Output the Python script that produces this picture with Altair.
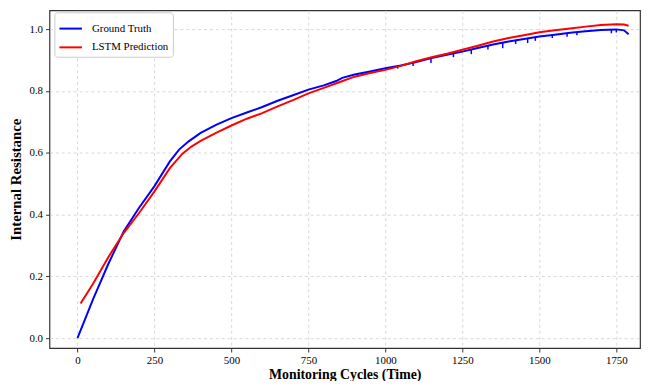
import altair as alt
import pandas as pd

# Ground truth (blue)
gt_cycles = [0, 50, 100, 150, 200, 250, 300, 330, 360, 400, 450, 500, 550, 600, 650, 700, 750,
             800, 840, 860, 900, 950, 1000, 1050, 1100, 1150, 1200, 1250, 1300, 1350, 1400,
             1450, 1500, 1550, 1600, 1650, 1700, 1750, 1775, 1790]
gt_values = [0.0, 0.125, 0.24, 0.345, 0.422, 0.492, 0.572, 0.61, 0.636, 0.664, 0.69, 0.712,
             0.73, 0.748, 0.768, 0.786, 0.804, 0.818, 0.832, 0.842, 0.853, 0.863, 0.873, 0.882,
             0.893, 0.906, 0.917, 0.927, 0.939, 0.95, 0.96, 0.968, 0.976, 0.982, 0.988,
             0.993, 0.997, 0.999, 0.996, 0.983]

# LSTM prediction (red)
pred_cycles = [10, 50, 100, 150, 200, 250, 300, 340, 370, 400, 450, 500, 550, 600, 650, 700, 750,
               800, 850, 900, 950, 1000, 1050, 1100, 1150, 1200, 1250, 1300, 1350, 1400,
               1450, 1500, 1550, 1600, 1650, 1700, 1750, 1775, 1790]
pred_values = [0.112, 0.175, 0.262, 0.34, 0.405, 0.475, 0.55, 0.596, 0.62, 0.638, 0.664, 0.688,
               0.71, 0.728, 0.75, 0.77, 0.792, 0.81, 0.828, 0.846, 0.858, 0.868, 0.881,
               0.896, 0.909, 0.92, 0.933, 0.946, 0.96, 0.971, 0.98, 0.99, 0.996, 1.002,
               1.008, 1.013, 1.016, 1.015, 1.011]

# Downward noise spikes in the ground truth
spike_cycles = [1040, 1090, 1148, 1221, 1279, 1333, 1381, 1423, 1462, 1487, 1542, 1590,
                1622, 1734, 1750]
spike_depth = [0.008, 0.01, 0.015, 0.012, 0.015, 0.012, 0.018, 0.012, 0.015, 0.012, 0.01,
               0.012, 0.01, 0.012, 0.01]

SERIES = ["Ground Truth", "LSTM Prediction"]
COLORS = ["#0000ff", "#ff0000"]

df = pd.concat([
    pd.DataFrame({"cycle": gt_cycles, "value": gt_values, "series": SERIES[0], "order": range(len(gt_cycles))}),
    pd.DataFrame({"cycle": pred_cycles, "value": pred_values, "series": SERIES[1], "order": range(len(pred_cycles))}),
])


def gt_at(c):
    for i in range(len(gt_cycles) - 1):
        if gt_cycles[i] <= c <= gt_cycles[i + 1]:
            t = (c - gt_cycles[i]) / (gt_cycles[i + 1] - gt_cycles[i])
            return gt_values[i] + t * (gt_values[i + 1] - gt_values[i])
    return gt_values[-1]


spikes = pd.DataFrame({
    "cycle": spike_cycles,
    "top": [gt_at(c) for c in spike_cycles],
    "bottom": [gt_at(c) - d for c, d in zip(spike_cycles, spike_depth)],
})

FONT = "Liberation Serif"
xscale = alt.Scale(domain=[-91, 1827], nice=False, zero=False)
yscale = alt.Scale(domain=[-0.032, 1.0607], nice=False, zero=False)

xaxis = alt.Axis(values=[0, 250, 500, 750, 1000, 1250, 1500, 1750], format="d",
                 title="Monitoring Cycles (Time)",
                 grid=True, gridDash=[3, 3], gridColor="#cccccc", gridOpacity=0.8,
                 domain=False, tickColor="#333333", tickSize=4, labelFont=FONT, labelFontSize=11,
                 labelColor="#000000", titleFont=FONT, titleFontSize=14, titleFontWeight="bold",
                 titleColor="#000000", titlePadding=2, labelPadding=3)
yaxis = alt.Axis(values=[0.0, 0.2, 0.4, 0.6, 0.8, 1.0], format=".1f", title="Internal Resistance",
                 grid=True, gridDash=[3, 3], gridColor="#cccccc", gridOpacity=0.8,
                 domain=False, tickColor="#333333", tickSize=4, labelFont=FONT, labelFontSize=11,
                 labelColor="#000000", titleFont=FONT, titleFontSize=15, titleFontWeight="bold",
                 titleColor="#000000", titlePadding=6, labelPadding=3)

lines = alt.Chart(df).mark_line(strokeWidth=2, clip=True).encode(
    x=alt.X("cycle:Q", scale=xscale, axis=xaxis),
    y=alt.Y("value:Q", scale=yscale, axis=yaxis),
    color=alt.Color("series:N", scale=alt.Scale(domain=SERIES, range=COLORS),
                    legend=alt.Legend(title=None, orient="none", legendX=5, legendY=2,
                                      symbolType="stroke", symbolStrokeWidth=2, symbolSize=520,
                                      labelFont=FONT, labelFontSize=11, labelColor="#000000",
                                      fillColor="white", strokeColor="#cccccc", padding=4,
                                      cornerRadius=3, rowPadding=1, labelOffset=9)),
    order="order:Q",
)

spike_rules = alt.Chart(spikes).mark_rule(color="#0000ff", strokeWidth=1.5).encode(
    x="cycle:Q", y="top:Q", y2="bottom:Q"
)

chart = alt.layer(spike_rules, lines).properties(
    width=598, height=342,
    autosize=alt.AutoSizeParams(type="none"),
    padding={"left": 42, "top": 0, "right": 2, "bottom": 31},
).configure(
    background="white", font=FONT,
    view=alt.ViewConfig(stroke="#333333", strokeWidth=1.2),
)

chart.save("out.html", embed_options={"renderer": "svg", "actions": False})
